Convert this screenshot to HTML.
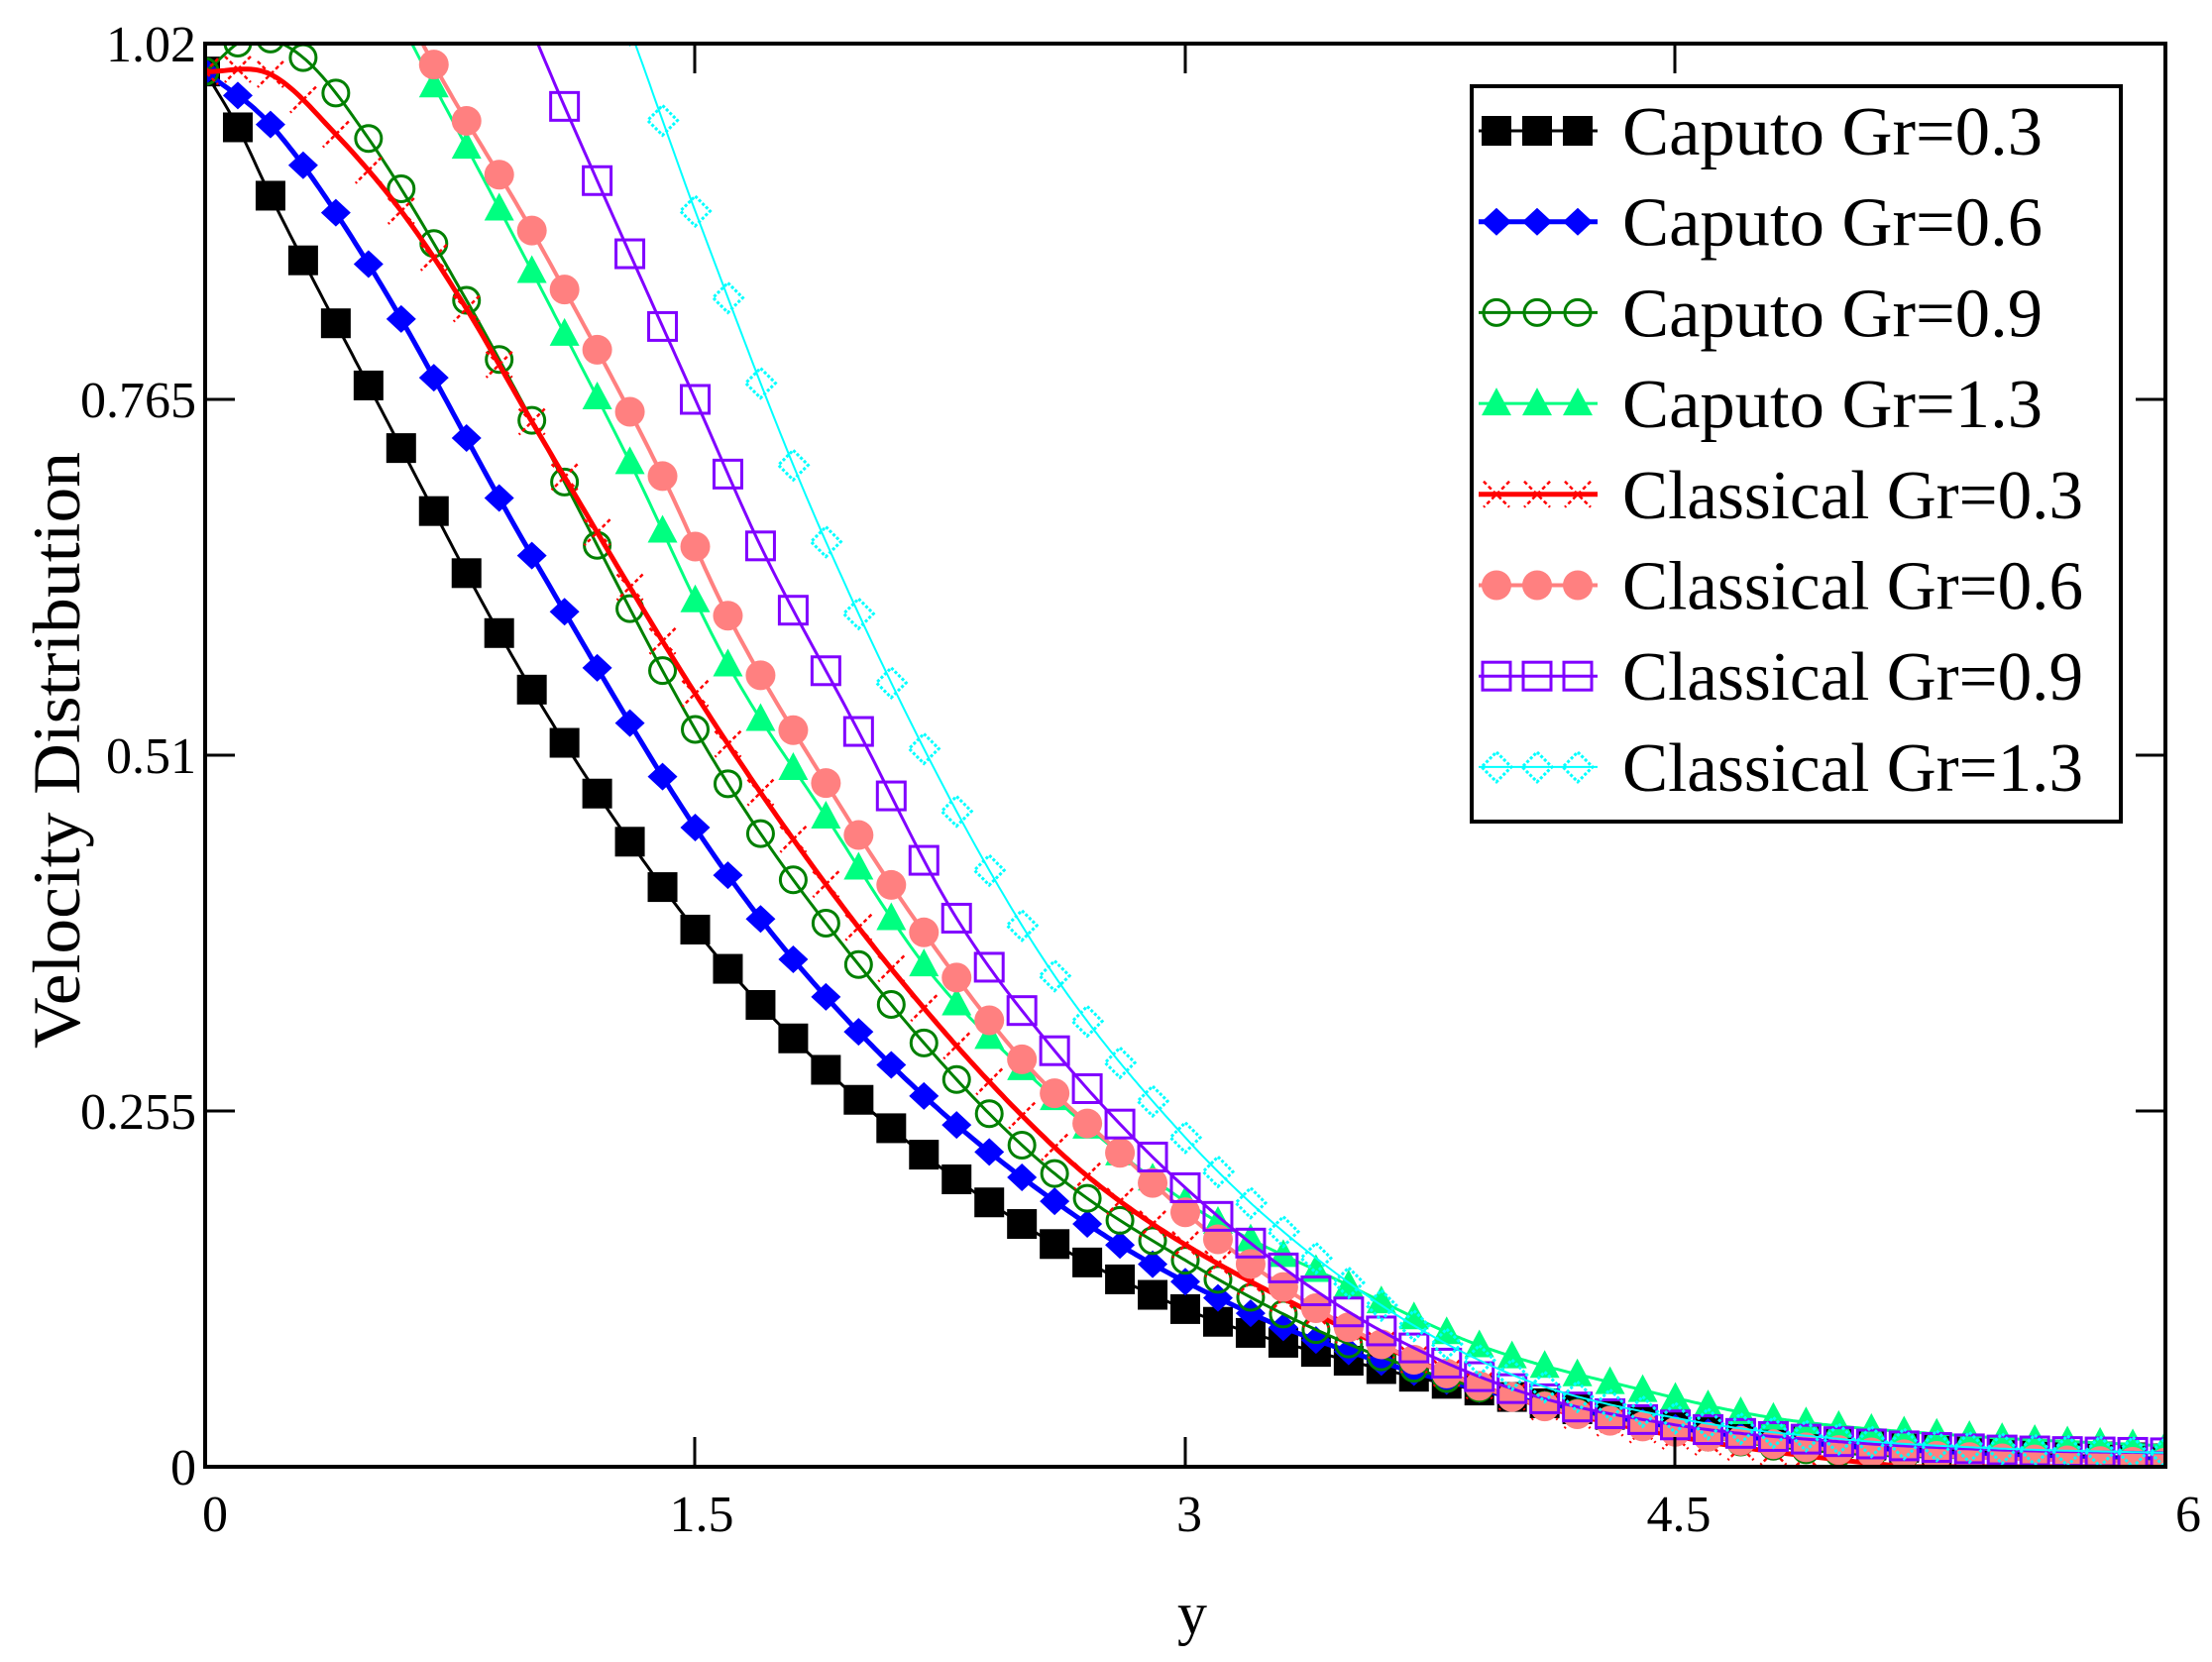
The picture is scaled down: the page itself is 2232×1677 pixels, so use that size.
<!DOCTYPE html>
<html><head><meta charset="utf-8"><style>
html,body{margin:0;padding:0;background:#fff;}
svg{display:block;}
text{font-family:"Liberation Serif",serif;fill:#000;}
</style></head><body>
<svg id="s" width="2232" height="1677" viewBox="0 0 2232 1677" xmlns="http://www.w3.org/2000/svg">
<defs><clipPath id="cp"><rect x="207" y="44" width="1978" height="1436"/></clipPath></defs>
<g id="plot" clip-path="url(#cp)"></g>
<rect x="207" y="44" width="1978" height="1436" fill="none" stroke="#000" stroke-width="4"/>
<g stroke="#000" stroke-width="3">
<line x1="207" y1="403" x2="237" y2="403"/><line x1="207" y1="762" x2="237" y2="762"/><line x1="207" y1="1121" x2="237" y2="1121"/>
<line x1="2185" y1="403" x2="2155" y2="403"/><line x1="2185" y1="762" x2="2155" y2="762"/><line x1="2185" y1="1121" x2="2155" y2="1121"/>
<line x1="701" y1="1480" x2="701" y2="1450"/><line x1="1196" y1="1480" x2="1196" y2="1450"/><line x1="1690" y1="1480" x2="1690" y2="1450"/>
<line x1="701" y1="44" x2="701" y2="74"/><line x1="1196" y1="44" x2="1196" y2="74"/><line x1="1690" y1="44" x2="1690" y2="74"/>
</g>
<g font-size="52" text-anchor="end">
<text x="198" y="62">1.02</text><text x="198" y="421">0.765</text><text x="198" y="780">0.51</text><text x="198" y="1139">0.255</text><text x="198" y="1498">0</text>
</g>
<g font-size="52" text-anchor="middle">
<text x="217" y="1545">0</text><text x="708" y="1545">1.5</text><text x="1200" y="1545">3</text><text x="1694" y="1545">4.5</text><text x="2208" y="1545">6</text>
<text x="1203" y="1648" font-size="60">y</text>
</g>
<text transform="translate(80,757) rotate(-90)" font-size="68" text-anchor="middle" textLength="602" lengthAdjust="spacingAndGlyphs">Velocity Distribution</text>
<rect x="1485" y="87" width="655" height="742" fill="#fff" stroke="#000" stroke-width="4"/>
<g id="leg"></g>
</svg>
<script>
const X=v=>207+v*329.67, Y=v=>1480-v*1436/1.02;
const S=[
{c:'#000',lw:3,m:'sq',n:'Caputo Gr=0.3',p:[[0,1.0],[0.1,0.96],[0.2,0.911],[0.5,0.775],[1,0.557],[1.5,0.385],[2,0.263],[2.5,0.174],[3,0.113],[3.5,0.076],[4,0.05],[4.5,0.03],[5,0.017],[5.5,0.01],[6,0.006]]},
{c:'#0000ff',lw:5,m:'dia',n:'Caputo Gr=0.6',p:[[0,1.0],[0.2,0.962],[0.5,0.862],[1,0.653],[1.6,0.424],[2.1,0.288],[2.7,0.174],[3.2,0.11],[3.6,0.075],[4,0.05],[4.5,0.028],[5,0.015],[5.5,0.008],[6,0.005]]},
{c:'#008000',lw:3,m:'oc',n:'Caputo Gr=0.9',p:[[0,1.0],[0.15,1.025],[0.3,1.01],[0.5,0.952],[0.8,0.836],[1,0.75],[1.58,0.497],[2.08,0.337],[2.55,0.22],[3,0.148],[3.5,0.088],[4,0.05],[4.5,0.025],[5,0.01],[5.5,0.006],[6,0.004]]},
{c:'#00ff80',lw:3,m:'tri',n:'Caputo Gr=1.3',p:[[0,1.25],[0.4,1.12],[0.7,0.99],[1.0,0.857],[1.3,0.72],[1.6,0.575],[1.9,0.466],[2.2,0.36],[2.4,0.308],[3,0.19],[3.5,0.13],[3.9,0.087],[4.4,0.055],[4.8,0.035],[5.4,0.022],[6,0.015]]},
{c:'#ff0000',lw:5,m:'x',n:'Classical Gr=0.3',p:[[0,1.0],[0.2,0.998],[0.4,0.955],[0.6,0.9],[0.8,0.83],[1,0.749],[1.6,0.518],[2.1,0.357],[2.6,0.229],[2.9,0.174],[3.5,0.098],[4,0.05],[4.5,0.022],[5,0.005],[5.5,-0.005],[6,-0.01]]},
{c:'#ff8080',lw:4,m:'dot',n:'Classical Gr=0.6',p:[[0,1.3],[0.4,1.14],[0.7,1.005],[1.0,0.886],[1.4,0.71],[1.6,0.61],[1.9,0.49],[2.2,0.383],[2.5,0.292],[2.8,0.225],[3.1,0.163],[3.5,0.1],[4,0.05],[4.5,0.025],[5,0.012],[5.5,0.006],[6,0.003]]},
{c:'#8000ff',lw:3,m:'osq',n:'Classical Gr=0.9',p:[[0,1.6],[1,1.03],[1.1,0.975],[1.5,0.765],[1.7,0.66],[2,0.527],[2.29,0.397],[2.59,0.301],[3,0.2],[3.5,0.111],[4,0.056],[4.5,0.03],[5,0.018],[5.5,0.012],[6,0.01]]},
{c:'#00ffff',lw:2,m:'odia',n:'Classical Gr=1.3',p:[[0,1.8],[1.3,1.03],[1.4,0.965],[1.5,0.9],[1.9,0.663],[2.5,0.388],[3,0.236],[3.5,0.132],[4,0.066],[4.5,0.035],[5,0.02],[5.5,0.013],[6,0.01]]}
];
function interp(p,x){
 let n=p.length,i=0; while(i<n-2&&x>p[i+1][0])i++;
 const d=[],m=[];
 for(let k=0;k<n-1;k++)d.push((p[k+1][1]-p[k][1])/(p[k+1][0]-p[k][0]));
 m[0]=d[0];m[n-1]=d[n-2];
 for(let k=1;k<n-1;k++)m[k]=(d[k-1]*d[k]<=0)?0:(d[k-1]+d[k])/2;
 const h=p[i+1][0]-p[i][0],t=(x-p[i][0])/h,t2=t*t,t3=t2*t;
 return (2*t3-3*t2+1)*p[i][1]+(t3-2*t2+t)*h*m[i]+(-2*t3+3*t2)*p[i+1][1]+(t3-t2)*h*m[i+1];
}
function mk(t,c,x,y){
 const r=15;
 switch(t){
 case 'sq':return `<rect x="${x-r}" y="${y-r}" width="${2*r}" height="${2*r}" fill="${c}"/>`;
 case 'dia':return `<polygon points="${x},${y-14} ${x+15},${y} ${x},${y+14} ${x-15},${y}" fill="${c}"/>`;
 case 'oc':return `<circle cx="${x}" cy="${y}" r="13" fill="none" stroke="${c}" stroke-width="3"/>`;
 case 'tri':return `<polygon points="${x},${y-16} ${x+15},${y+12} ${x-15},${y+12}" fill="${c}"/>`;
 case 'x':return `<path d="M${x-13} ${y-13}L${x+13} ${y+13}M${x+13} ${y-13}L${x-13} ${y+13}" stroke="${c}" stroke-width="2.5" stroke-dasharray="4 3"/>`;
 case 'dot':return `<circle cx="${x}" cy="${y}" r="15" fill="${c}"/>`;
 case 'osq':return `<rect x="${x-14}" y="${y-14}" width="28" height="28" fill="none" stroke="${c}" stroke-width="3"/>`;
 case 'odia':return `<polygon points="${x},${y-15} ${x+15},${y} ${x},${y+15} ${x-15},${y}" fill="none" stroke="${c}" stroke-width="3" stroke-dasharray="3 2"/>`;
 }
}
let out='';
for(const s of S){
 let d='';
 for(let k=0;k<=600;k++){const x=k/100;const v=Math.max(0,interp(s.p,x));d+=(k?'L':'M')+X(x).toFixed(1)+' '+Y(v).toFixed(1);}
 out+=`<path d="${d}" fill="none" stroke="${s.c}" stroke-width="${s.lw}"/>`;
 for(let k=0;k<=60;k++){const x=k/10;const v=Math.max(0,interp(s.p,x));out+=mk(s.m,s.c,X(x),Y(v));}
}
document.getElementById('plot').innerHTML=out;
let lg='';
S.forEach((s,i)=>{
 const y=132+i*91.7;
 lg+=`<line x1="1492" y1="${y}" x2="1612" y2="${y}" stroke="${s.c}" stroke-width="${s.lw}"/>`;
 [1510,1551,1592].forEach(x=>lg+=mk(s.m,s.c,x,y));
 const w=i<4?424:465;
 lg+=`<text x="1637" y="${y+24}" font-size="70" textLength="${w}" lengthAdjust="spacingAndGlyphs">${s.n}</text>`;
});
document.getElementById('leg').innerHTML=lg;
</script>
</body></html>
